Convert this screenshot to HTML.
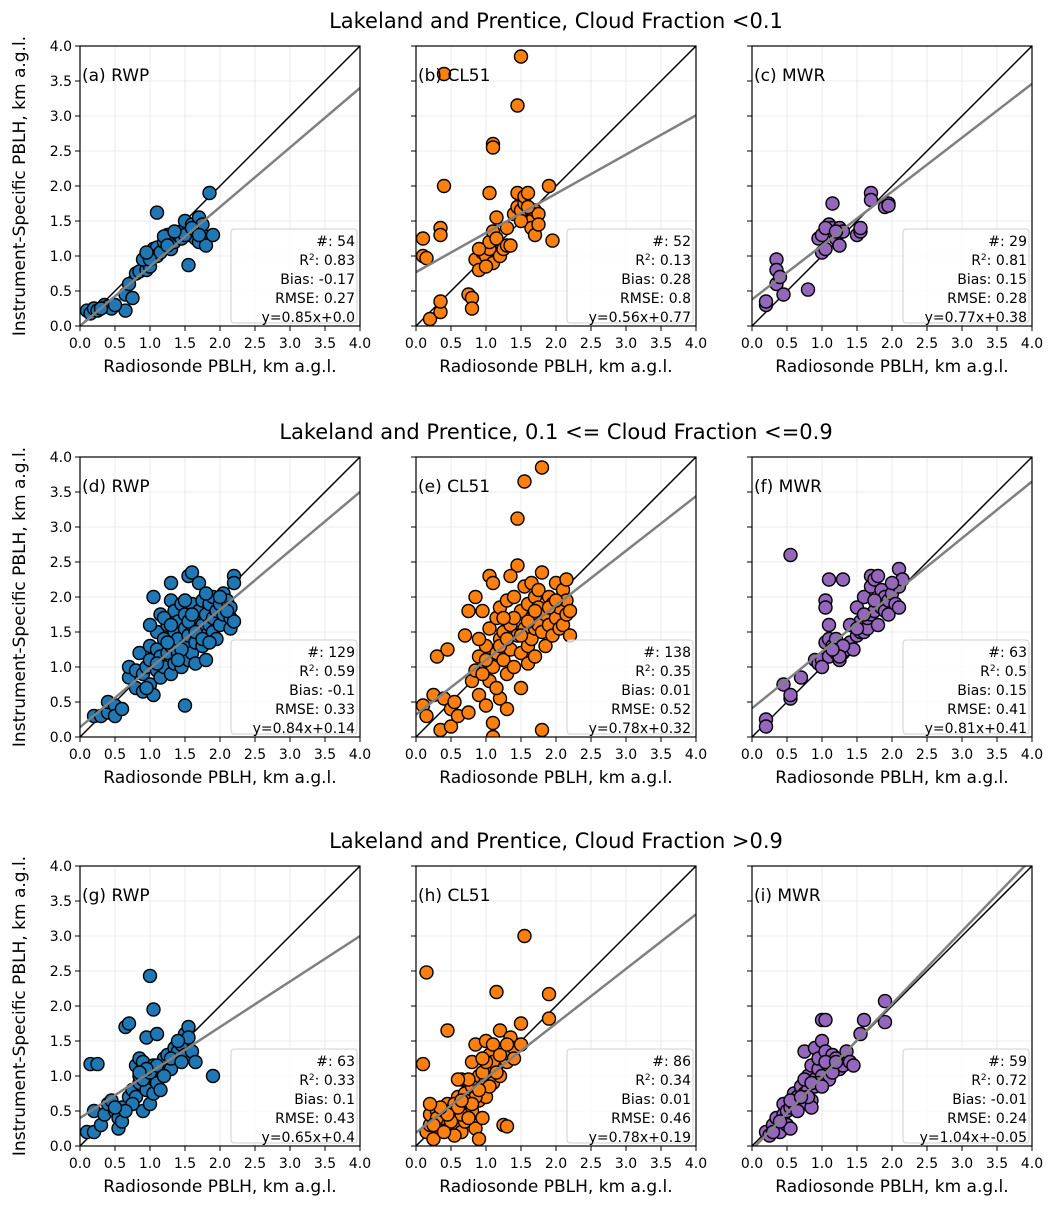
<!DOCTYPE html>
<html><head><meta charset="utf-8"><style>
html,body{margin:0;padding:0;background:#fff;}
svg{display:block;font-family:"DejaVu Sans","Liberation Sans",sans-serif;}
</style></head><body>
<svg id="fig" width="1054" height="1216" viewBox="0 0 1054 1216" xmlns="http://www.w3.org/2000/svg"></svg>
<script>
const rowTitles=["Lakeland and Prentice, Cloud Fraction <0.1","Lakeland and Prentice, 0.1 <= Cloud Fraction <=0.9","Lakeland and Prentice, Cloud Fraction >0.9"];
const panelLabels=["(a) RWP","(b) CL51","(c) MWR","(d) RWP","(e) CL51","(f) MWR","(g) RWP","(h) CL51","(i) MWR"];
const colors=["#1f77b4","#ff7f0e","#9467bd"];
const xTicks=["0.0","0.5","1.0","1.5","2.0","2.5","3.0","3.5","4.0"];
const counts=[54,52,29,129,138,63,63,86,59];
const r2=["0.83","0.13","0.81","0.59","0.35","0.5","0.33","0.34","0.72"];
const bias=["-0.17","0.28","0.15","-0.1","0.01","0.15","0.1","0.01","-0.01"];
const rmse=["0.27","0.8","0.28","0.33","0.52","0.41","0.43","0.46","0.24"];
const slopes=[0.85,0.56,0.77,0.84,0.78,0.81,0.65,0.78,1.04];
const intercepts=[0.0,0.77,0.38,0.14,0.32,0.41,0.4,0.19,-0.05];
const fitText=["y=0.85x+0.0","y=0.56x+0.77","y=0.77x+0.38","y=0.84x+0.14","y=0.78x+0.32","y=0.81x+0.41","y=0.65x+0.4","y=0.78x+0.19","y=1.04x+-0.05"];
const pA=[[0.1,0.22],[0.15,0.18],[0.2,0.25],[0.25,0.22],[0.35,0.3],[0.4,0.28],[0.45,0.25],[0.65,0.22],[0.65,0.45],[0.7,0.6],[0.75,0.4],[0.8,0.75],[0.85,0.78],[0.95,0.8],[1.0,0.85],[1.05,1.1],[1.1,1.12],[1.1,1.0],[1.15,1.05],[1.1,1.62],[1.2,1.2],[1.25,1.3],[1.3,1.1],[1.3,1.25],[1.35,1.2],[1.4,1.3],[1.45,1.35],[1.5,1.4],[1.5,1.5],[1.55,1.3],[1.55,0.87],[1.6,1.45],[1.6,1.35],[1.65,1.25],[1.65,1.4],[1.7,1.2],[1.7,1.55],[1.75,1.3],[1.75,1.45],[1.8,1.15],[1.85,1.9],[1.9,1.3],[0.9,0.95],[1.0,0.95],[1.2,1.28],[1.45,1.25],[1.5,1.3],[1.6,1.4],[1.7,1.3],[0.3,0.25],[0.5,0.3],[1.35,1.35],[1.25,1.15],[0.95,1.05]];
const pB=[[0.4,3.6],[1.5,3.85],[1.45,3.15],[1.1,2.6],[1.1,2.55],[0.4,2.0],[1.05,1.9],[1.9,2.0],[0.1,1.25],[0.35,1.4],[0.35,1.3],[0.1,1.0],[0.15,0.97],[0.2,0.1],[0.35,0.2],[0.35,0.35],[0.75,0.45],[0.8,0.4],[0.8,0.25],[0.85,0.95],[0.9,0.8],[0.95,1.05],[1.0,1.0],[1.05,1.1],[1.05,1.2],[1.1,0.9],[1.1,1.35],[1.15,1.25],[1.15,1.55],[1.2,1.0],[1.25,1.1],[1.3,1.15],[1.35,1.15],[1.4,1.6],[1.45,1.7],[1.45,1.9],[1.5,1.65],[1.55,1.75],[1.55,1.85],[1.6,1.9],[1.65,1.5],[1.65,1.4],[1.7,1.3],[1.7,1.65],[1.75,1.6],[1.75,1.45],[1.95,1.22],[0.9,1.1],[1.0,0.85],[1.3,1.4],[1.6,1.7],[1.5,1.5]];
const pC=[[0.2,0.3],[0.2,0.35],[0.35,0.95],[0.35,0.8],[0.35,0.6],[0.4,0.7],[0.45,0.45],[0.8,0.52],[0.95,1.25],[1.0,1.05],[1.0,1.3],[1.05,1.1],[1.1,1.45],[1.15,1.75],[1.15,1.4],[1.2,1.25],[1.25,1.4],[1.25,1.15],[1.3,1.35],[1.5,1.3],[1.55,1.35],[1.55,1.4],[1.7,1.9],[1.7,1.8],[1.9,1.7],[1.95,1.75],[1.95,1.72],[1.05,1.4],[1.2,1.35]];
const pD=[[0.2,0.3],[0.3,0.3],[0.4,0.35],[0.4,0.5],[0.5,0.45],[0.5,0.3],[0.6,0.4],[0.7,0.85],[0.7,1.0],[0.8,0.7],[0.8,0.95],[0.85,1.2],[0.9,0.65],[0.9,0.9],[0.95,1.0],[1.0,0.75],[1.0,1.1],[1.0,1.3],[1.05,2.0],[1.05,0.6],[1.1,0.95],[1.1,1.25],[1.1,1.5],[1.15,0.85],[1.15,1.15],[1.15,1.75],[1.2,1.0],[1.2,1.4],[1.25,1.6],[1.25,1.2],[1.3,0.9],[1.3,1.3],[1.3,1.95],[1.3,2.2],[1.35,1.05],[1.35,1.5],[1.35,1.8],[1.4,1.2],[1.4,1.65],[1.4,1.4],[1.45,1.9],[1.45,1.0],[1.5,0.45],[1.5,1.3],[1.5,1.55],[1.5,1.75],[1.55,2.3],[1.55,1.1],[1.55,1.45],[1.6,2.35],[1.6,1.2],[1.6,1.6],[1.6,1.9],[1.65,1.05],[1.65,1.35],[1.65,1.7],[1.7,1.5],[1.7,1.8],[1.7,2.2],[1.75,1.3],[1.75,1.6],[1.75,1.95],[1.8,1.1],[1.8,1.45],[1.8,1.75],[1.85,1.6],[1.85,1.9],[1.9,1.5],[1.9,1.7],[1.9,2.0],[1.95,1.8],[1.95,1.4],[2.0,1.9],[2.0,1.6],[2.05,2.05],[2.05,1.75],[2.1,1.95],[2.15,1.55],[2.15,1.7],[2.15,1.85],[2.2,2.3],[2.2,2.2],[2.2,1.65],[1.2,1.7],[1.0,1.6],[1.45,1.25],[1.25,1.35],[1.55,1.65],[1.65,1.5],[1.75,1.4],[1.85,1.35],[1.4,1.1],[1.1,1.05],[0.95,0.7],[1.3,1.6],[1.6,1.75],[1.8,2.05],[2.0,2.0],[2.1,1.8],[1.5,1.95]];
const pE=[[0.1,0.45],[0.15,0.3],[0.25,0.6],[0.3,1.15],[0.35,0.1],[0.4,0.55],[0.45,1.25],[0.5,0.4],[0.5,0.15],[0.55,0.5],[0.6,0.3],[0.7,1.45],[0.75,1.8],[0.75,0.35],[0.8,0.8],[0.85,2.0],[0.85,0.95],[0.9,1.15],[0.9,0.6],[0.95,1.8],[1.0,1.0],[1.0,1.3],[1.0,0.45],[1.05,2.3],[1.05,1.55],[1.05,0.8],[1.1,2.2],[1.1,1.0],[1.1,0.2],[1.1,0.0],[1.15,1.7],[1.15,1.2],[1.2,0.55],[1.2,1.4],[1.2,1.85],[1.25,1.1],[1.25,1.5],[1.3,1.95],[1.3,0.9],[1.3,0.4],[1.35,1.25],[1.35,1.6],[1.4,2.0],[1.4,1.0],[1.45,3.12],[1.45,2.45],[1.45,1.45],[1.5,1.8],[1.5,1.2],[1.5,0.7],[1.55,3.65],[1.55,2.15],[1.55,1.55],[1.6,1.3],[1.6,1.9],[1.6,1.05],[1.65,1.7],[1.65,2.2],[1.65,1.4],[1.7,1.55],[1.7,1.15],[1.7,2.0],[1.75,1.85],[1.75,1.6],[1.75,2.1],[1.8,3.85],[1.8,2.35],[1.8,1.5],[1.8,0.1],[1.85,1.75],[1.85,1.3],[1.9,2.0],[1.9,1.6],[1.95,1.9],[1.95,1.45],[2.0,2.2],[2.0,1.7],[2.05,1.85],[2.05,1.55],[2.1,2.1],[2.1,1.6],[2.15,2.25],[2.15,1.95],[2.15,1.75],[2.2,1.8],[2.2,1.45],[1.0,1.1],[1.2,1.3],[1.4,1.7],[1.6,1.65],[1.3,1.4],[0.95,0.9],[1.15,0.7],[1.5,1.45],[1.7,1.8],[1.9,1.85],[2.0,1.95],[1.25,1.7],[0.9,1.4],[1.35,2.3]];
const pF=[[0.2,0.25],[0.2,0.15],[0.45,0.75],[0.55,0.55],[0.55,0.6],[0.55,2.6],[0.7,0.85],[0.9,1.1],[0.95,1.05],[1.0,1.1],[1.05,1.95],[1.05,1.85],[1.05,1.35],[1.1,1.15],[1.1,2.25],[1.1,1.6],[1.1,1.4],[1.15,1.3],[1.2,1.2],[1.25,1.1],[1.3,2.25],[1.3,1.2],[1.35,1.25],[1.4,1.35],[1.45,1.25],[1.5,1.45],[1.5,1.85],[1.55,1.5],[1.55,1.65],[1.6,2.0],[1.6,1.5],[1.65,1.55],[1.65,1.7],[1.7,2.15],[1.7,1.75],[1.7,2.3],[1.75,1.8],[1.75,2.25],[1.8,2.3],[1.8,1.95],[1.8,1.6],[1.85,2.1],[1.85,1.85],[1.9,2.0],[1.9,1.8],[1.95,1.95],[1.95,1.75],[2.0,2.05],[2.05,1.9],[2.1,2.4],[2.1,2.15],[2.1,1.85],[2.15,2.25],[1.4,1.6],[1.5,1.55],[1.6,1.75],[1.2,1.4],[1.3,1.3],[1.0,1.0],[1.25,1.15],[1.75,1.95],[1.15,1.25],[2.0,2.2]];
const pG=[[0.1,0.2],[0.15,1.17],[0.2,0.5],[0.2,0.2],[0.25,1.17],[0.3,0.3],[0.35,0.45],[0.4,0.6],[0.45,0.65],[0.5,0.5],[0.55,0.4],[0.55,0.25],[0.6,0.55],[0.65,1.7],[0.7,1.75],[0.7,0.7],[0.75,0.8],[0.8,1.15],[0.8,0.7],[0.85,1.25],[0.85,0.9],[0.85,1.0],[0.9,1.1],[0.9,0.5],[0.9,1.2],[0.95,1.55],[0.95,0.8],[1.0,2.43],[1.0,1.0],[1.0,0.6],[1.05,1.95],[1.05,1.15],[1.05,0.75],[1.1,1.6],[1.1,0.9],[1.15,1.1],[1.15,0.8],[1.2,1.25],[1.25,1.3],[1.3,1.1],[1.35,1.4],[1.4,1.35],[1.45,1.45],[1.5,1.3],[1.5,1.6],[1.55,1.7],[1.55,1.55],[1.6,1.35],[1.65,1.2],[1.9,1.0],[0.9,0.95],[1.0,1.05],[1.1,1.15],[0.95,1.1],[1.2,1.0],[0.75,0.6],[0.6,0.35],[1.3,1.25],[1.45,1.2],[1.4,1.5],[0.65,0.5],[0.85,1.05],[0.5,0.55]];
const pH=[[0.1,1.17],[0.15,2.48],[0.15,0.2],[0.2,0.3],[0.2,0.45],[0.25,0.1],[0.3,0.5],[0.35,0.25],[0.35,0.35],[0.4,0.4],[0.45,1.65],[0.45,0.6],[0.5,0.2],[0.5,0.5],[0.55,0.3],[0.6,0.7],[0.6,0.45],[0.65,0.95],[0.65,0.2],[0.7,0.55],[0.7,0.35],[0.75,0.6],[0.75,0.8],[0.8,1.2],[0.8,0.5],[0.85,0.25],[0.85,1.45],[0.85,0.9],[0.9,0.1],[0.9,0.65],[0.9,1.0],[0.95,0.4],[0.95,0.85],[1.0,1.5],[1.0,0.95],[1.0,0.7],[1.05,1.3],[1.05,1.1],[1.1,1.45],[1.1,0.9],[1.15,2.2],[1.15,1.15],[1.2,1.65],[1.2,1.0],[1.25,0.3],[1.3,0.28],[1.3,1.2],[1.35,1.3],[1.35,1.55],[1.4,1.4],[1.5,1.75],[1.5,1.45],[1.55,3.0],[1.9,2.17],[1.9,1.82],[0.3,0.4],[0.4,0.5],[0.55,0.6],[0.65,0.45],[0.7,0.75],[0.8,0.85],[0.95,1.05],[1.05,0.85],[1.1,1.2],[0.6,0.55],[0.5,0.35],[0.75,0.95],[0.85,0.7],[1.2,1.3],[1.3,1.45],[0.25,0.3],[0.45,0.45],[0.55,0.15],[0.7,0.65],[0.9,0.8],[1.0,1.2],[0.8,0.6],[0.35,0.55],[0.65,0.65],[1.15,1.05],[0.2,0.6],[0.4,0.2],[0.6,0.95],[0.95,1.25],[1.4,1.25],[0.75,0.4]];
const pI=[[0.2,0.2],[0.25,0.15],[0.3,0.3],[0.35,0.4],[0.4,0.2],[0.45,0.45],[0.45,0.6],[0.5,0.5],[0.5,0.3],[0.55,0.55],[0.55,0.25],[0.6,0.6],[0.6,0.75],[0.65,0.7],[0.7,0.85],[0.7,0.6],[0.75,1.35],[0.75,0.75],[0.8,0.8],[0.8,1.0],[0.85,1.15],[0.85,0.65],[0.85,0.55],[0.9,1.4],[0.9,0.95],[0.9,0.85],[0.95,1.1],[0.95,1.25],[1.0,1.8],[1.0,1.0],[1.0,1.5],[1.05,1.8],[1.05,1.35],[1.1,1.15],[1.1,0.95],[1.15,1.3],[1.2,1.25],[1.25,1.1],[1.3,1.15],[1.35,1.35],[1.4,1.2],[1.45,1.15],[1.55,1.6],[1.6,1.8],[1.9,2.07],[1.9,1.77],[0.65,0.5],[0.75,0.95],[0.8,0.7],[0.95,0.9],[1.05,1.2],[0.55,0.65],[0.7,0.7],[1.15,1.05],[0.3,0.2],[0.4,0.35],[0.85,0.9],[1.0,0.85],[1.2,1.2]];
const points=[pA,pB,pC,pD,pE,pF,pG,pH,pI];

const NS="http://www.w3.org/2000/svg";
const svg=document.getElementById('fig');
function mk(tag,attrs,parent,text){const e=document.createElementNS(NS,tag);for(const k in attrs)e.setAttribute(k,attrs[k]);if(text!==undefined)e.textContent=text;(parent||svg).appendChild(e);return e;}
const colX=[80,416,752], rowY=[326,737,1146], S=70, W=280, H=280;
const defs=mk('defs',{});
rowTitles.forEach((t,r)=>{
  const e=mk('text',{x:556,y:rowY[r]-298,'text-anchor':'middle','font-size':21,fill:'#000'},svg,t);
  
  
  const yl=mk('text',{x:0,y:0,'text-anchor':'middle','font-size':17,transform:`translate(25,${rowY[r]-140}) rotate(-90)`},svg,'Instrument-Specific PBLH, km a.g.l.');
  
  
});
for(let p=0;p<9;p++){
  const r=Math.floor(p/3), c=p%3, x0=colX[c], y0=rowY[r];
  const sx=v=>x0+v*S, sy=v=>y0-v*S;
  const g=mk('g',{});
  
  
  const cp=mk('clipPath',{id:'cp'+p},defs);mk('rect',{x:x0,y:y0-H,width:W,height:H},cp);
  for(let i=0;i<=8;i++){const v=i*0.5;
    mk('line',{x1:sx(v),x2:sx(v),y1:y0,y2:y0-H,stroke:'#e6e6e6','stroke-width':0.8},g);
    mk('line',{x1:x0,x2:x0+W,y1:sy(v),y2:sy(v),stroke:'#e6e6e6','stroke-width':0.8},g);
  }
  const one=mk('line',{x1:sx(0),y1:sy(0),x2:sx(4),y2:sy(4),stroke:'#000','stroke-width':1.5},g);
  
  
  const pg=mk('g',{'clip-path':`url(#cp${p})`},g);
  points[p].forEach(([vx,vy])=>{
    const cc=mk('circle',{cx:sx(vx),cy:sy(vy),r:6.5,fill:colors[c],stroke:'#000','stroke-width':1.4},pg);
    
    
  });
  const fl=mk('line',{x1:sx(0),y1:sy(intercepts[p]),x2:sx(4),y2:sy(slopes[p]*4+intercepts[p]),stroke:'#808080','stroke-width':2.5,'clip-path':`url(#cp${p})`},g);
  
  
  const bx=mk('rect',{x:x0+151,y:y0-97,width:126,height:94,rx:3,fill:'#fff','fill-opacity':0.8,stroke:'#d0d0d0','stroke-width':1},g);
  
  
  const lines=['#: '+counts[p],null,'Bias: '+bias[p],'RMSE: '+rmse[p],fitText[p]];
  lines.forEach((t,i)=>{
    const ty=y0-80+i*19;
    let e;
    if(t===null){e=mk('text',{x:x0+275,y:ty,'text-anchor':'end','font-size':14},g);
      e.appendChild(document.createTextNode('R'));
      mk('tspan',{dy:-5,'font-size':9},e,'2');
      mk('tspan',{dy:5},e,': '+r2[p]);
    } else e=mk('text',{x:x0+275,y:ty,'text-anchor':'end','font-size':14},g,t);
    
    
  });
  mk('rect',{x:x0,y:y0-H,width:W,height:H,fill:'none',stroke:'#000','stroke-width':1.2},g);
  xTicks.forEach((t,i)=>{
    const v=i*0.5;
    mk('line',{x1:sx(v),x2:sx(v),y1:y0,y2:y0+5,stroke:'#000','stroke-width':1},g);
    const tl=mk('text',{x:sx(v),y:y0+22,'text-anchor':'middle','font-size':14},g,t);
    
    
    mk('line',{x1:x0-5,x2:x0,y1:sy(v),y2:sy(v),stroke:'#000','stroke-width':1},g);
    if(c===0){const yl=mk('text',{x:x0-8,y:sy(v)+5,'text-anchor':'end','font-size':14},g,t);
      
      }
  });
  const xl=mk('text',{x:x0+W/2,y:y0+46,'text-anchor':'middle','font-size':17},g,'Radiosonde PBLH, km a.g.l.');
  
  
  const pl=mk('text',{x:x0+2,y:y0-245,'font-size':17},g,panelLabels[p]);
  
  
}
</script>
</body></html>
